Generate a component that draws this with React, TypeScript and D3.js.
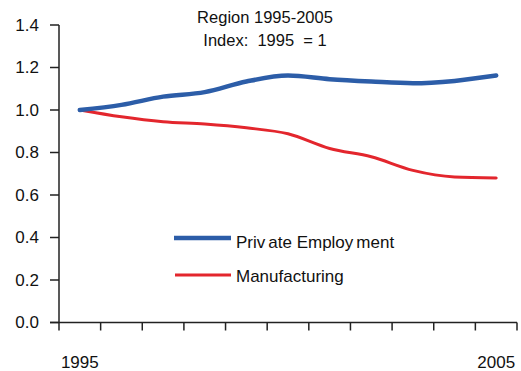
import React from "react";
import * as d3 from "d3";

const years = ["1995","1996","1997","1998","1999","2000","2001","2002","2003","2004","2005"];
const privateEmployment = [1.0, 1.024, 1.063, 1.084, 1.134, 1.162, 1.145, 1.134, 1.126, 1.137, 1.162];
const manufacturing = [1.0, 0.968, 0.945, 0.934, 0.916, 0.888, 0.819, 0.78, 0.716, 0.685, 0.68];
const yTicks = [0, 0.2, 0.4, 0.6, 0.8, 1.0, 1.2, 1.4];
const xLabels = ["1995", "2005"];
const titleLines = ["Region 1995-2005", "Index:  1995  = 1"];

const W = 521, H = 371;
const FONT = "'Liberation Sans', Arial, Helvetica, sans-serif";

export default function App() {
  const x = d3.scaleBand<string>().domain(years).range([59, 517]).padding(0);
  const y = d3.scaleLinear().domain([0, 1.4]).range([322.5, 25]);
  const cx = (d: string) => (x(d) as number) + x.bandwidth() / 2;
  const line = d3
    .line<number>()
    .x((_, i) => cx(years[i]))
    .y((v) => y(v))
    .curve(d3.curveMonotoneX);
  const tickXs = years.map((d) => x(d) as number).concat([517]);
  const blue = "#2c5da8";
  const red = "#e3262d";
  return (
    <div style={{ position: "fixed", left: 0, top: 0 }}>
      <svg width={W} height={H} style={{ display: "block", background: "#fff" }} fontFamily={FONT}>
        <rect width={W} height={H} fill="#fff" />
        {titleLines.map((t, i) => (
          <text key={t} x={265} y={23 + i * 23} textAnchor="middle" fontSize={16.5} fill="#111" style={{ whiteSpace: "pre" }}>
            {t}
          </text>
        ))}
        {/* y axis */}
        <line x1={59} x2={59} y1={y(1.4)} y2={y(0)} stroke="#222" strokeWidth={1.5} />
        {yTicks.map((t) => (
          <g key={t}>
            <line x1={50} x2={59} y1={y(t)} y2={y(t)} stroke="#222" strokeWidth={1.5} />
            <text x={39} y={y(t)} dy="0.35em" textAnchor="end" fontSize={17} fill="#111">
              {t.toFixed(1)}
            </text>
          </g>
        ))}
        {/* x axis */}
        <line x1={50} x2={517} y1={y(0)} y2={y(0)} stroke="#222" strokeWidth={1.5} />
        {tickXs.map((tx, i) => (
          <line key={i} x1={tx} x2={tx} y1={y(0)} y2={y(0) + 8} stroke="#222" strokeWidth={1.5} />
        ))}
        {xLabels.map((l) => (
          <text key={l} x={cx(l)} y={368} textAnchor="middle" fontSize={17} fill="#111">
            {l}
          </text>
        ))}
        {/* lines */}
        <path d={line(manufacturing) || ""} fill="none" stroke={red} strokeWidth={3} strokeLinejoin="round" strokeLinecap="round" />
        <path d={line(privateEmployment) || ""} fill="none" stroke={blue} strokeWidth={4.5} strokeLinejoin="round" strokeLinecap="round" />
        {/* legend */}
        <line x1={174} x2={231} y1={238} y2={238} stroke={blue} strokeWidth={4.5} />
        <text x={236} y={248} fontSize={17} fill="#111">
          Priv<tspan dx={3}>ate Employ</tspan><tspan dx={3}>ment</tspan>
        </text>
        <line x1={175} x2={231} y1={275} y2={275} stroke={red} strokeWidth={3} />
        <text x={236} y={282} fontSize={17} fill="#111">
          Manufacturing
        </text>
      </svg>
    </div>
  );
}
